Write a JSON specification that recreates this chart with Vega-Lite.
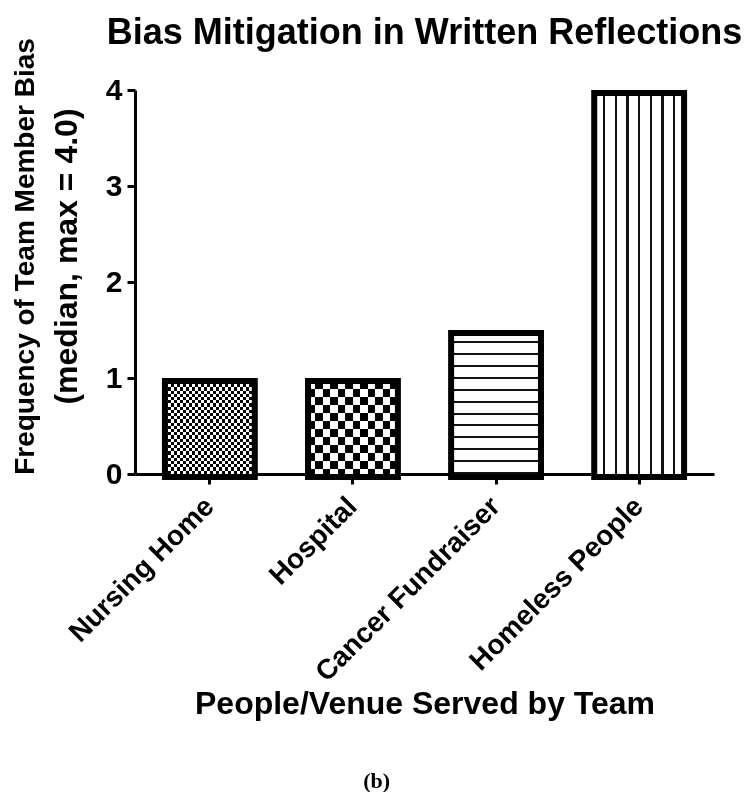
{
  "$schema": "https://vega.github.io/schema/vega-lite/v6.json",
  "background": "white",
  "padding": {"left": 10, "top": 14, "right": 0, "bottom": 0},
  "title": {"text": "(b)", "orient": "bottom", "anchor": "middle", "frame": "bounds", "font": "Liberation Serif", "fontSize": 22, "fontWeight": "bold", "color": "#000", "offset": 52},
  "vconcat": [
    {
      "width": 579,
      "height": 384,
      "title": {"text": "Bias Mitigation in Written Reflections", "anchor": "middle", "frame": "group", "font": "Liberation Sans", "fontSize": 36, "fontWeight": "bold", "color": "#000", "offset": -14, "limit": 1000},
      "data": {"values": [
        {"venue": "Nursing Home", "median_bias": 1.0},
        {"venue": "Hospital", "median_bias": 1.0},
        {"venue": "Cancer Fundraiser", "median_bias": 1.5},
        {"venue": "Homeless People", "median_bias": 4.0}
      ]},
      "encoding": {
        "x": {"field": "venue", "type": "nominal", "sort": null,
          "scale": {"paddingInner": 0.372, "paddingOuter": 0.209},
          "axis": {"title": "People/Venue Served by Team", "labelAngle": -45, "labelAlign": "right", "labelBaseline": "middle", "labelFontSize": 28, "labelFontWeight": "bold", "labelLimit": 500, "labelPadding": 18,
            "domainWidth": 3, "tickWidth": 3, "tickSize": 10, "titleFontSize": 32, "titleFontWeight": "bold", "titlePadding": 14}}
      },
      "layer": [
        {
          "encoding": {
            "y": {"field": "median_bias", "type": "quantitative",
              "scale": {"domain": [0, 4], "nice": false},
              "axis": {"orient": "left", "title": "(median, max = 4.0)", "values": [0, 1, 2, 3, 4], "format": "d",
                "domainWidth": 3, "tickWidth": 3, "tickSize": 8, "labelFontSize": 30, "labelFontWeight": "bold", "labelPadding": 5,
                "titleFontSize": 32, "titleFontWeight": "bold", "titlePadding": 22, "titleLimit": 1000, "titleY": 166}}
          },
          "layer": [
            {"transform": [{"filter": "datum.venue === 'Nursing Home'"}],
             "mark": {"type": "bar", "yOffset": 3, "strokeWidth": 0,
              "fill": {"gradient": "linear", "x1": 0, "y1": 0, "x2": 0, "y2": 1, "stops": [
                {"offset": 0, "color": "#fff"}, {"offset": 0.0333, "color": "#fff"},
                {"offset": 0.0333, "color": "#000"}, {"offset": 0.0667, "color": "#000"},
                {"offset": 0.0667, "color": "#fff"}, {"offset": 0.1, "color": "#fff"},
                {"offset": 0.1, "color": "#000"}, {"offset": 0.1333, "color": "#000"},
                {"offset": 0.1333, "color": "#fff"}, {"offset": 0.1667, "color": "#fff"},
                {"offset": 0.1667, "color": "#000"}, {"offset": 0.2, "color": "#000"},
                {"offset": 0.2, "color": "#fff"}, {"offset": 0.2333, "color": "#fff"},
                {"offset": 0.2333, "color": "#000"}, {"offset": 0.2667, "color": "#000"},
                {"offset": 0.2667, "color": "#fff"}, {"offset": 0.3, "color": "#fff"},
                {"offset": 0.3, "color": "#000"}, {"offset": 0.3333, "color": "#000"},
                {"offset": 0.3333, "color": "#fff"}, {"offset": 0.3667, "color": "#fff"},
                {"offset": 0.3667, "color": "#000"}, {"offset": 0.4, "color": "#000"},
                {"offset": 0.4, "color": "#fff"}, {"offset": 0.4333, "color": "#fff"},
                {"offset": 0.4333, "color": "#000"}, {"offset": 0.4667, "color": "#000"},
                {"offset": 0.4667, "color": "#fff"}, {"offset": 0.5, "color": "#fff"},
                {"offset": 0.5, "color": "#000"}, {"offset": 0.5333, "color": "#000"},
                {"offset": 0.5333, "color": "#fff"}, {"offset": 0.5667, "color": "#fff"},
                {"offset": 0.5667, "color": "#000"}, {"offset": 0.6, "color": "#000"},
                {"offset": 0.6, "color": "#fff"}, {"offset": 0.6333, "color": "#fff"},
                {"offset": 0.6333, "color": "#000"}, {"offset": 0.6667, "color": "#000"},
                {"offset": 0.6667, "color": "#fff"}, {"offset": 0.7, "color": "#fff"},
                {"offset": 0.7, "color": "#000"}, {"offset": 0.7333, "color": "#000"},
                {"offset": 0.7333, "color": "#fff"}, {"offset": 0.7667, "color": "#fff"},
                {"offset": 0.7667, "color": "#000"}, {"offset": 0.8, "color": "#000"},
                {"offset": 0.8, "color": "#fff"}, {"offset": 0.8333, "color": "#fff"},
                {"offset": 0.8333, "color": "#000"}, {"offset": 0.8667, "color": "#000"},
                {"offset": 0.8667, "color": "#fff"}, {"offset": 0.9, "color": "#fff"},
                {"offset": 0.9, "color": "#000"}, {"offset": 0.9333, "color": "#000"},
                {"offset": 0.9333, "color": "#fff"}, {"offset": 0.9667, "color": "#fff"},
                {"offset": 0.9667, "color": "#000"}, {"offset": 1, "color": "#000"}
              ]}}},
            {"transform": [{"filter": "datum.venue === 'Hospital'"}],
             "mark": {"type": "bar", "yOffset": 3, "strokeWidth": 0,
              "fill": {"gradient": "linear", "x1": 0, "y1": 0, "x2": 0, "y2": 1, "stops": [
                {"offset": 0, "color": "#fff"}, {"offset": 0.0833, "color": "#fff"},
                {"offset": 0.0833, "color": "#000"}, {"offset": 0.1667, "color": "#000"},
                {"offset": 0.1667, "color": "#fff"}, {"offset": 0.25, "color": "#fff"},
                {"offset": 0.25, "color": "#000"}, {"offset": 0.3333, "color": "#000"},
                {"offset": 0.3333, "color": "#fff"}, {"offset": 0.4167, "color": "#fff"},
                {"offset": 0.4167, "color": "#000"}, {"offset": 0.5, "color": "#000"},
                {"offset": 0.5, "color": "#fff"}, {"offset": 0.5833, "color": "#fff"},
                {"offset": 0.5833, "color": "#000"}, {"offset": 0.6667, "color": "#000"},
                {"offset": 0.6667, "color": "#fff"}, {"offset": 0.75, "color": "#fff"},
                {"offset": 0.75, "color": "#000"}, {"offset": 0.8333, "color": "#000"},
                {"offset": 0.8333, "color": "#fff"}, {"offset": 0.9167, "color": "#fff"},
                {"offset": 0.9167, "color": "#000"}, {"offset": 1, "color": "#000"}
              ]}}},
            {"transform": [{"filter": "datum.venue === 'Cancer Fundraiser'"}],
             "mark": {"type": "bar", "yOffset": 3, "strokeWidth": 0,
              "fill": {"gradient": "linear", "x1": 0, "y1": 0, "x2": 0, "y2": 1, "stops": [
                {"offset": 0, "color": "#fff"}, {"offset": 0.0567, "color": "#fff"},
                {"offset": 0.0567, "color": "#111"}, {"offset": 0.0709, "color": "#111"},
                {"offset": 0.0709, "color": "#fff"}, {"offset": 0.1394, "color": "#fff"},
                {"offset": 0.1394, "color": "#111"}, {"offset": 0.1535, "color": "#111"},
                {"offset": 0.1535, "color": "#fff"}, {"offset": 0.222, "color": "#fff"},
                {"offset": 0.222, "color": "#111"}, {"offset": 0.2362, "color": "#111"},
                {"offset": 0.2362, "color": "#fff"}, {"offset": 0.3046, "color": "#fff"},
                {"offset": 0.3046, "color": "#111"}, {"offset": 0.3188, "color": "#111"},
                {"offset": 0.3188, "color": "#fff"}, {"offset": 0.3872, "color": "#fff"},
                {"offset": 0.3872, "color": "#111"}, {"offset": 0.4014, "color": "#111"},
                {"offset": 0.4014, "color": "#fff"}, {"offset": 0.4699, "color": "#fff"},
                {"offset": 0.4699, "color": "#111"}, {"offset": 0.484, "color": "#111"},
                {"offset": 0.484, "color": "#fff"}, {"offset": 0.5525, "color": "#fff"},
                {"offset": 0.5525, "color": "#111"}, {"offset": 0.5667, "color": "#111"},
                {"offset": 0.5667, "color": "#fff"}, {"offset": 0.6351, "color": "#fff"},
                {"offset": 0.6351, "color": "#111"}, {"offset": 0.6493, "color": "#111"},
                {"offset": 0.6493, "color": "#fff"}, {"offset": 0.7177, "color": "#fff"},
                {"offset": 0.7177, "color": "#111"}, {"offset": 0.7319, "color": "#111"},
                {"offset": 0.7319, "color": "#fff"}, {"offset": 0.8004, "color": "#fff"},
                {"offset": 0.8004, "color": "#111"}, {"offset": 0.8145, "color": "#111"},
                {"offset": 0.8145, "color": "#fff"}, {"offset": 0.883, "color": "#fff"},
                {"offset": 0.883, "color": "#111"}, {"offset": 0.8972, "color": "#111"},
                {"offset": 0.8972, "color": "#fff"}, {"offset": 0.9656, "color": "#fff"},
                {"offset": 0.9656, "color": "#111"}, {"offset": 0.9798, "color": "#111"},
                {"offset": 0.9798, "color": "#fff"}, {"offset": 1, "color": "#fff"}
              ]}}},
            {"transform": [{"filter": "datum.venue === 'Homeless People'"}],
             "mark": {"type": "bar", "yOffset": 3, "strokeWidth": 0,
              "fill": {"gradient": "linear", "x1": 0, "y1": 0, "x2": 1, "y2": 0, "stops": [
                {"offset": 0, "color": "#fff"}, {"offset": 0.0989, "color": "#fff"},
                {"offset": 0.0989, "color": "#111"}, {"offset": 0.1233, "color": "#111"},
                {"offset": 0.1233, "color": "#fff"}, {"offset": 0.2285, "color": "#fff"},
                {"offset": 0.2285, "color": "#111"}, {"offset": 0.253, "color": "#111"},
                {"offset": 0.253, "color": "#fff"}, {"offset": 0.3581, "color": "#fff"},
                {"offset": 0.3581, "color": "#111"}, {"offset": 0.3826, "color": "#111"},
                {"offset": 0.3826, "color": "#fff"}, {"offset": 0.4878, "color": "#fff"},
                {"offset": 0.4878, "color": "#111"}, {"offset": 0.5122, "color": "#111"},
                {"offset": 0.5122, "color": "#fff"}, {"offset": 0.6174, "color": "#fff"},
                {"offset": 0.6174, "color": "#111"}, {"offset": 0.6419, "color": "#111"},
                {"offset": 0.6419, "color": "#fff"}, {"offset": 0.747, "color": "#fff"},
                {"offset": 0.747, "color": "#111"}, {"offset": 0.7714, "color": "#111"},
                {"offset": 0.7714, "color": "#fff"}, {"offset": 0.8767, "color": "#fff"},
                {"offset": 0.8767, "color": "#111"}, {"offset": 0.9011, "color": "#111"},
                {"offset": 0.9011, "color": "#fff"}, {"offset": 1, "color": "#fff"}
              ]}}},
            {"transform": [{"filter": "datum.venue === 'Nursing Home'"}],
             "mark": {"type": "bar", "yOffset": 3, "strokeWidth": 0, "blend": "difference",
              "fill": {"gradient": "linear", "x1": 0, "y1": 0, "x2": 1, "y2": 0, "stops": [
                {"offset": 0, "color": "#000"}, {"offset": 0.0333, "color": "#000"},
                {"offset": 0.0333, "color": "#fff"}, {"offset": 0.0667, "color": "#fff"},
                {"offset": 0.0667, "color": "#000"}, {"offset": 0.1, "color": "#000"},
                {"offset": 0.1, "color": "#fff"}, {"offset": 0.1333, "color": "#fff"},
                {"offset": 0.1333, "color": "#000"}, {"offset": 0.1667, "color": "#000"},
                {"offset": 0.1667, "color": "#fff"}, {"offset": 0.2, "color": "#fff"},
                {"offset": 0.2, "color": "#000"}, {"offset": 0.2333, "color": "#000"},
                {"offset": 0.2333, "color": "#fff"}, {"offset": 0.2667, "color": "#fff"},
                {"offset": 0.2667, "color": "#000"}, {"offset": 0.3, "color": "#000"},
                {"offset": 0.3, "color": "#fff"}, {"offset": 0.3333, "color": "#fff"},
                {"offset": 0.3333, "color": "#000"}, {"offset": 0.3667, "color": "#000"},
                {"offset": 0.3667, "color": "#fff"}, {"offset": 0.4, "color": "#fff"},
                {"offset": 0.4, "color": "#000"}, {"offset": 0.4333, "color": "#000"},
                {"offset": 0.4333, "color": "#fff"}, {"offset": 0.4667, "color": "#fff"},
                {"offset": 0.4667, "color": "#000"}, {"offset": 0.5, "color": "#000"},
                {"offset": 0.5, "color": "#fff"}, {"offset": 0.5333, "color": "#fff"},
                {"offset": 0.5333, "color": "#000"}, {"offset": 0.5667, "color": "#000"},
                {"offset": 0.5667, "color": "#fff"}, {"offset": 0.6, "color": "#fff"},
                {"offset": 0.6, "color": "#000"}, {"offset": 0.6333, "color": "#000"},
                {"offset": 0.6333, "color": "#fff"}, {"offset": 0.6667, "color": "#fff"},
                {"offset": 0.6667, "color": "#000"}, {"offset": 0.7, "color": "#000"},
                {"offset": 0.7, "color": "#fff"}, {"offset": 0.7333, "color": "#fff"},
                {"offset": 0.7333, "color": "#000"}, {"offset": 0.7667, "color": "#000"},
                {"offset": 0.7667, "color": "#fff"}, {"offset": 0.8, "color": "#fff"},
                {"offset": 0.8, "color": "#000"}, {"offset": 0.8333, "color": "#000"},
                {"offset": 0.8333, "color": "#fff"}, {"offset": 0.8667, "color": "#fff"},
                {"offset": 0.8667, "color": "#000"}, {"offset": 0.9, "color": "#000"},
                {"offset": 0.9, "color": "#fff"}, {"offset": 0.9333, "color": "#fff"},
                {"offset": 0.9333, "color": "#000"}, {"offset": 0.9667, "color": "#000"},
                {"offset": 0.9667, "color": "#fff"}, {"offset": 1, "color": "#fff"}
              ]}}},
            {"transform": [{"filter": "datum.venue === 'Hospital'"}],
             "mark": {"type": "bar", "yOffset": 3, "strokeWidth": 0, "blend": "difference",
              "fill": {"gradient": "linear", "x1": 0, "y1": 0, "x2": 1, "y2": 0, "stops": [
                {"offset": 0, "color": "#000"}, {"offset": 0.0833, "color": "#000"},
                {"offset": 0.0833, "color": "#fff"}, {"offset": 0.1667, "color": "#fff"},
                {"offset": 0.1667, "color": "#000"}, {"offset": 0.25, "color": "#000"},
                {"offset": 0.25, "color": "#fff"}, {"offset": 0.3333, "color": "#fff"},
                {"offset": 0.3333, "color": "#000"}, {"offset": 0.4167, "color": "#000"},
                {"offset": 0.4167, "color": "#fff"}, {"offset": 0.5, "color": "#fff"},
                {"offset": 0.5, "color": "#000"}, {"offset": 0.5833, "color": "#000"},
                {"offset": 0.5833, "color": "#fff"}, {"offset": 0.6667, "color": "#fff"},
                {"offset": 0.6667, "color": "#000"}, {"offset": 0.75, "color": "#000"},
                {"offset": 0.75, "color": "#fff"}, {"offset": 0.8333, "color": "#fff"},
                {"offset": 0.8333, "color": "#000"}, {"offset": 0.9167, "color": "#000"},
                {"offset": 0.9167, "color": "#fff"}, {"offset": 1, "color": "#fff"}
              ]}}}
          ]
        },
        {
          "encoding": {
            "y": {"field": "median_bias", "type": "quantitative",
              "scale": {"domain": [0, 4], "nice": false},
              "axis": {"orient": "left", "title": "Frequency of Team Member Bias", "domain": false, "ticks": false, "labels": false,
                "titleFontSize": 28, "titleFontWeight": "bold", "titleLimit": 1000, "titleBaseline": "alphabetic", "titleX": -102, "titleY": 166}}
          },
          "mark": {"type": "bar", "yOffset": 3, "fill": "transparent", "stroke": "#000", "strokeWidth": 6, "strokeJoin": "miter"}
        }
      ],
      "resolve": {"axis": {"y": "independent"}}
    }
  ],
  "config": {
    "font": "Liberation Sans",
    "view": {"stroke": null},
    "axis": {"grid": false, "domainColor": "#000", "tickColor": "#000", "labelColor": "#000", "titleColor": "#000", "labelFont": "Liberation Sans", "titleFont": "Liberation Sans"}
  }
}
